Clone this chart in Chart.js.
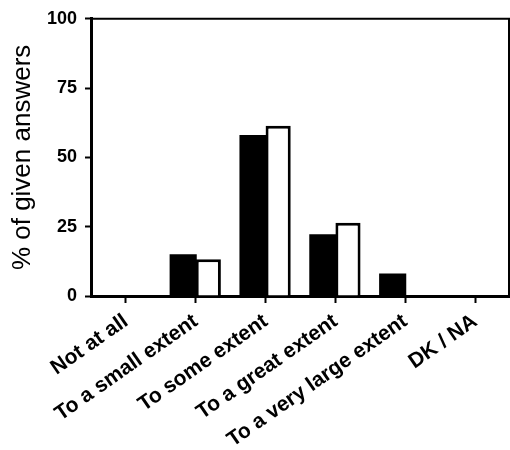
<!DOCTYPE html>
<html>
<head>
<meta charset="utf-8">
<script src="https://cdn.jsdelivr.net/npm/chart.js@4.4.0/dist/chart.umd.min.js"></script>
<style>
  html, body { margin: 0; padding: 0; background: #fff; }
  #wrap { width: 510px; height: 450px; }
</style>
</head>
<body>
<div id="wrap"><canvas id="myChart"></canvas></div>
<script>
var categories = ["Not at all", "To a small extent", "To some extent", "To a great extent", "To a very large extent", "DK / NA"];
var seriesBlack = [0, 14.7, 57.7, 21.9, 7.8, 0];
var seriesWhite = [0, 13.3, 61.4, 26.4, 0, 0];
var yTicks = [0, 25, 50, 75, 100];

var fontName = "'Liberation Sans', Arial, sans-serif";

// thin frame on top and right side of the plot
var framePlugin = {
  id: "frame",
  afterDraw: function (chart) {
    var a = chart.chartArea, ctx = chart.ctx;
    ctx.save();
    ctx.strokeStyle = "#000";
    ctx.lineWidth = 2;
    ctx.beginPath();
    ctx.moveTo(a.left, a.top);
    ctx.lineTo(a.right - 1, a.top);
    ctx.lineTo(a.right - 1, a.bottom);
    ctx.stroke();
    ctx.restore();
  }
};

new Chart(document.getElementById("myChart"), {
  type: "bar",
  data: {
    labels: categories,
    datasets: [
      {
        data: seriesBlack,
        backgroundColor: "#000",
        borderWidth: 0,
        inflateAmount: 1,
        categoryPercentage: 0.72,
        barPercentage: 1
      },
      {
        data: seriesWhite,
        backgroundColor: "#fff",
        borderColor: "#000",
        borderWidth: 3,
        categoryPercentage: 0.72,
        barPercentage: 1
      }
    ]
  },
  options: {
    responsive: true,
    maintainAspectRatio: false,
    animation: false,
    layout: { padding: { left: 7, top: 18, right: 0, bottom: 0 } },
    plugins: { legend: { display: false }, tooltip: { enabled: false } },
    scales: {
      x: {
        grid: { display: true, drawOnChartArea: false, offset: false, tickLength: 7, tickWidth: 2, tickColor: "#000" },
        border: { display: true, color: "#000", width: 3 },
        ticks: {
          color: "#000",
          font: { family: fontName, size: 21, weight: "bold" },
          maxRotation: 35,
          minRotation: 35,
          padding: 6,
          autoSkip: false
        },
        afterFit: function (scale) { scale.height = 154; }
      },
      y: {
        min: 0,
        max: 100,
        afterBuildTicks: function (scale) {
          scale.ticks = yTicks.map(function (v) { return { value: v }; });
        },
        grid: { display: true, drawOnChartArea: false, tickLength: 6, tickWidth: 2, tickColor: "#000" },
        border: { display: true, color: "#000", width: 3 },
        ticks: {
          color: "#000",
          font: { family: fontName, size: 18, weight: "bold" },
          padding: 8
        },
        title: {
          display: true,
          text: "% of given answers",
          color: "#000",
          font: { family: fontName, size: 26 },
          padding: { top: 0, bottom: 0 }
        },
        afterFit: function (scale) { scale.width = 84; }
      }
    }
  },
  plugins: [framePlugin]
});
</script>
</body>
</html>
